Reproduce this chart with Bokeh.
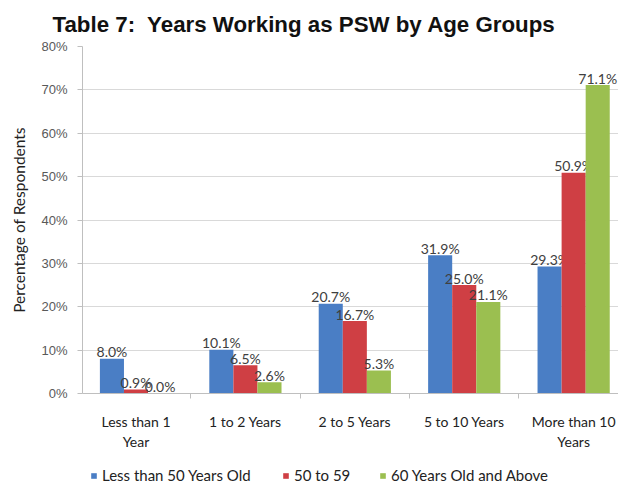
from bokeh.plotting import figure
from bokeh.models import (ColumnDataSource, FixedTicker, PrintfTickFormatter, Range1d,
                          Legend, LegendItem, Title)
from bokeh.layouts import column
from bokeh.core.properties import value
from bokeh.embed import file_html
from bokeh.resources import INLINE

title_text = "Table 7:\u00a0 Years Working as PSW by Age Groups"
categories = ["Less than 1\nYear", "1 to 2 Years", "2 to 5 Years", "5 to 10 Years", "More than 10\nYears"]
series_names = ["Less than 50 Years Old", "50 to 59", "60 Years Old and Above"]
under_50 = [8.0, 10.1, 20.7, 31.9, 29.3]
age_50_59 = [0.9, 6.5, 16.7, 25.0, 50.9]
age_60_up = [0.0, 2.6, 5.3, 21.1, 71.1]
y_ticks = [0, 10, 20, 30, 40, 50, 60, 70, 80]

colors = ["#4A7EC5", "#CF3F44", "#9BBF50"]
FONT = "Lato"

p = figure(width=618, height=452, output_backend="svg", toolbar_location=None,
           x_range=Range1d(-0.489, 4.41), y_range=Range1d(0, 80),
           min_border_left=82, min_border_right=0, min_border_top=46, min_border_bottom=53)
p.outline_line_color = None
p.background_fill_color = "white"
p.border_fill_color = "white"

t = Title(text=title_text, align="left", offset=-30, vertical_align="top",
          text_font="Liberation Sans", text_font_size="22.3px", text_font_style="bold",
          text_color="#111111", standoff=16)
p.add_layout(t, "above")

x = list(range(len(categories)))
bw = 0.22
offsets = [-bw, 0.0, bw]
all_series = [under_50, age_50_59, age_60_up]
sources = []
for vals, off, col, name in zip(all_series, offsets, colors, series_names):
    src = ColumnDataSource(dict(x=[xi + off for xi in x], top=vals,
                                lab=[f"{v:.1f}%" for v in vals]))
    sources.append(src)
    p.vbar(x="x", top="top", width=bw, source=src, fill_color=col, line_color=None)
    p.text(x="x", y="top", text="lab", source=src, text_align="center",
           text_baseline="alphabetic", y_offset=-7, text_font=value(FONT),
           text_font_size="14px", text_color="#404040")

# y axis
p.yaxis.ticker = FixedTicker(ticks=y_ticks)
p.yaxis.formatter = PrintfTickFormatter(format="%d%%")
p.yaxis.axis_label = "Percentage of Respondents"
p.yaxis.axis_label_text_font = FONT
p.yaxis.axis_label_text_font_size = "15.5px"
p.yaxis.axis_label_text_font_style = "normal"
p.yaxis.axis_label_text_color = "#222222"
p.yaxis.axis_label_standoff = 10
p.yaxis.major_label_text_font = "Liberation Sans"
p.yaxis.major_label_text_font_size = "13px"
p.yaxis.major_label_text_color = "#595959"
p.yaxis.major_label_standoff = 10
p.yaxis.major_tick_out = 5
p.yaxis.major_tick_in = 0
p.yaxis.minor_tick_out = 0
p.yaxis.minor_tick_in = 0
p.yaxis.axis_line_color = "#BFBFBF"
p.yaxis.major_tick_line_color = "#BFBFBF"

# x axis
p.xaxis.ticker = FixedTicker(ticks=x, minor_ticks=[0.5, 1.5, 2.5, 3.5])
p.xaxis.major_label_overrides = {i: c for i, c in enumerate(categories)}
p.xaxis.major_label_text_font = FONT
p.xaxis.major_label_text_font_size = "14px"
p.xaxis.major_label_text_color = "#222222"
p.xaxis.major_label_standoff = 14
p.xaxis.major_tick_out = 0
p.xaxis.major_tick_in = 0
p.xaxis.minor_tick_out = 5
p.xaxis.minor_tick_in = 0
p.xaxis.minor_tick_line_color = "#BFBFBF"
p.xaxis.axis_line_color = "#BFBFBF"

p.xgrid.grid_line_color = None
p.ygrid.ticker = FixedTicker(ticks=y_ticks)
p.ygrid.grid_line_color = "#D9D9D9"

# legend strip below the chart
p2 = figure(width=618, height=33, output_backend="svg", toolbar_location=None,
            x_range=Range1d(-0.489, 4.41), y_range=Range1d(1000, 1001),
            min_border_left=0, min_border_right=0, min_border_top=0, min_border_bottom=0)
p2.axis.visible = False
p2.grid.grid_line_color = None
p2.outline_line_color = None
p2.border_fill_color = "white"
leg_x = [8, 200, 297]
for src, col, name, lx in zip(sources, colors, series_names, leg_x):
    r = p2.vbar(x="x", top="top", width=bw, source=src, fill_color=col, line_color=None)
    leg = Legend(items=[LegendItem(label=name, renderers=[r])], location=(lx, 1),
                 orientation="horizontal", glyph_width=7, glyph_height=7,
                 label_standoff=5, padding=0, margin=0, spacing=0,
                 border_line_color=None, background_fill_alpha=0,
                 label_text_font=FONT, label_text_font_size="15px",
                 label_text_color="#222222", label_height=14)
    p2.add_layout(leg, "center")

layout = column(p, p2, spacing=0)
open("out.html", "w").write(file_html(layout, INLINE))
